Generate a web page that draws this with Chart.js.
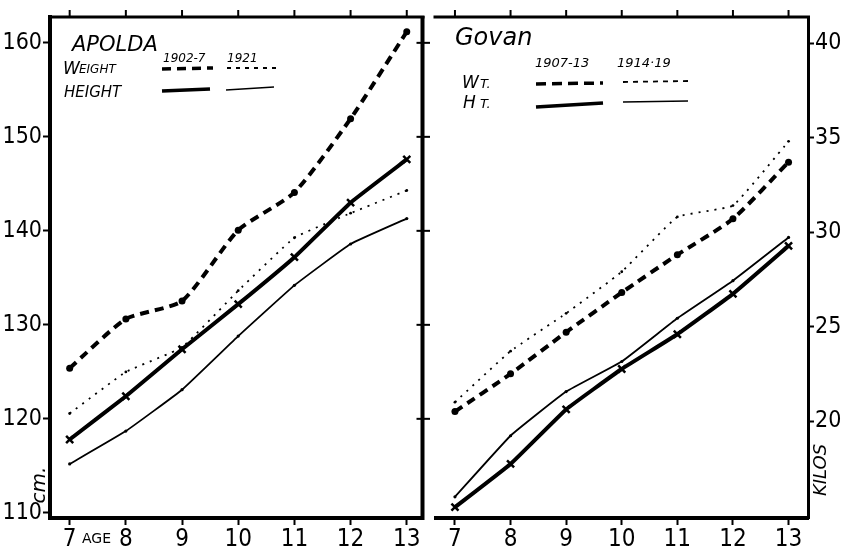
<!DOCTYPE html>
<html>
<head>
<meta charset="utf-8">
<script src="https://cdn.jsdelivr.net/npm/chart.js@4.4.0/dist/chart.umd.min.js"></script>
<style>
html, body { margin: 0; padding: 0; background: #fff; }
#wrap { position: relative; width: 843px; height: 549px; overflow: hidden; }
.box { position: absolute; top: 0; height: 549px; }
#leftBox { left: 0; width: 430px; }
#rightBox { left: 428px; width: 415px; }
</style>
</head>
<body>
<div id="wrap">
  <div class="box" id="leftBox"><canvas id="apolda"></canvas></div>
  <div class="box" id="rightBox"><canvas id="govan"></canvas></div>
</div>
<script>
// ages on both panels
const ages = [7, 8, 9, 10, 11, 12, 13];

// Apolda (weights in kilos, heights in cm)
const apoldaWeight1902 = [22.8, 25.4, 26.35, 30.1, 32.1, 36.0, 40.6];
const apoldaWeight1921 = [20.4, 22.6, 23.9, 26.9, 29.7, 31.0, 32.2];
const apoldaHeight1902 = [117.8, 122.4, 127.4, 132.2, 137.2, 143.0, 147.6];
const apoldaHeight1921 = [115.2, 118.7, 123.1, 128.8, 134.2, 138.6, 141.3];

// Govan
const govanWeight1907 = [20.5, 22.5, 24.7, 26.8, 28.8, 30.7, 33.7];
const govanWeight1914 = [21.0, 23.7, 25.7, 27.9, 30.8, 31.4, 34.8];
const govanHeight1907 = [110.6, 115.2, 121.0, 125.3, 129.0, 133.3, 138.4];
const govanHeight1914 = [111.7, 118.2, 122.9, 126.1, 130.7, 134.7, 139.3];

// tick labels
const cmTicks = [110, 120, 130, 140, 150, 160];
const kiloTicks = [20, 25, 30, 35, 40];

const INK = '#000';
const numFont = '"Liberation Sans Narrow", "DejaVu Sans Condensed", sans-serif';
const handFont = '"DejaVu Sans", sans-serif';

function pts(arr) { return ages.map((a, i) => ({ x: a, y: arr[i] })); }

// line styles shared by both panels
function heavyDash(data, axis) {
  return { data: pts(data), yAxisID: axis, borderColor: INK, backgroundColor: INK,
    borderWidth: 4, borderDash: [9, 6], pointStyle: 'circle', pointRadius: 3.5, pointBorderWidth: 0, tension: 0.2 };
}
function lightDot(data, axis) {
  return { data: pts(data), yAxisID: axis, borderColor: INK, backgroundColor: INK,
    borderWidth: 1.8, borderDash: [2, 6], pointStyle: 'circle', pointRadius: 1.4, pointBorderWidth: 0, tension: 0.1 };
}
function heavySolid(data, axis) {
  return { data: pts(data), yAxisID: axis, borderColor: INK, backgroundColor: INK,
    borderWidth: 4, pointStyle: 'crossRot', pointRadius: 5, pointBorderWidth: 2.5, tension: 0.1 };
}
function lightSolid(data, axis) {
  return { data: pts(data), yAxisID: axis, borderColor: INK, backgroundColor: INK,
    borderWidth: 1.8, pointStyle: 'circle', pointRadius: 1.6, pointBorderWidth: 0, tension: 0.1 };
}

function seg(ctx, x1, y1, x2, y2, w, dash) {
  ctx.save();
  ctx.lineWidth = w;
  ctx.setLineDash(dash || []);
  ctx.beginPath(); ctx.moveTo(x1, y1); ctx.lineTo(x2, y2); ctx.stroke();
  ctx.restore();
}

// frame: top border, ticks on top, divider and panel text
const frame = {
  id: 'frame',
  afterDraw(chart, args, opts) {
    const ctx = chart.ctx, a = chart.chartArea, sx = chart.scales.x;
    ctx.save();
    ctx.strokeStyle = INK; ctx.fillStyle = INK;
    seg(ctx, a.left - 2, a.top, a.right + 2, a.top, 3);
    ages.forEach(v => {
      const x = sx.getPixelForValue(v);
      seg(ctx, x, a.top, x, a.top - 7, 2);
    });
    if (opts.divider) {
      seg(ctx, a.right, a.top - 1, a.right, a.bottom + 2, 4);
      cmTicks.forEach(v => {
        const y = chart.scales.y.getPixelForValue(v);
        if (v > 110) seg(ctx, a.right - 6, y, a.right + 8, y, 2);
      });
    }
    if (opts.text) opts.text(ctx, chart);
    ctx.restore();
  }
};

function apoldaText(ctx) {
  ctx.textBaseline = 'alphabetic';
  ctx.textAlign = 'left';
  ctx.font = 'italic 21px ' + handFont;
  ctx.fillText('APOLDA', 72, 51);
  ctx.font = 'italic 12px ' + handFont;
  ctx.fillText('1902-7', 163, 62);
  ctx.fillText('1921', 227, 62);
  ctx.font = 'italic 17px ' + handFont;
  ctx.fillText('W', 63, 74);
  ctx.font = 'italic 12px ' + handFont;
  ctx.fillText('EIGHT', 79, 73);
  ctx.font = 'italic 15px ' + handFont;
  ctx.fillText('HEIGHT', 64, 97);
  seg(ctx, 162, 69, 213, 68, 3.5, [9, 6]);
  seg(ctx, 227, 68, 278, 68, 1.8, [4, 5]);
  seg(ctx, 162, 91, 210, 89, 3.5);
  seg(ctx, 226, 90, 274, 87, 1.6);
  // axis words
  ctx.font = '14px ' + handFont;
  ctx.fillText('AGE', 82, 543);
  ctx.save();
  ctx.translate(45, 485); ctx.rotate(-Math.PI / 2);
  ctx.textAlign = 'center';
  ctx.font = 'italic 20px ' + handFont;
  ctx.fillText('cm.', 0, 0);
  ctx.restore();
}

function govanText(ctx) {
  // right canvas starts at x=428
  const ox = -428;
  ctx.textBaseline = 'alphabetic';
  ctx.textAlign = 'left';
  ctx.font = 'italic 24px ' + handFont;
  ctx.fillText('Govan', 455 + ox, 45);
  ctx.font = 'italic 13px ' + handFont;
  ctx.fillText('1907-13', 535 + ox, 67);
  ctx.fillText('1914\u00b719', 617 + ox, 67);
  ctx.font = 'italic 17px ' + handFont;
  ctx.fillText('W', 462 + ox, 88);
  ctx.fillText('H', 463 + ox, 108);
  ctx.font = 'italic 13px ' + handFont;
  ctx.fillText('T.', 480 + ox, 88);
  ctx.fillText('T.', 480 + ox, 108);
  seg(ctx, 536 + ox, 84, 603 + ox, 83, 3.5, [10, 6]);
  seg(ctx, 623 + ox, 82, 688 + ox, 81, 1.8, [5, 5]);
  seg(ctx, 536 + ox, 107, 603 + ox, 103, 3.5);
  seg(ctx, 623 + ox, 102, 688 + ox, 101, 1.6);
  ctx.save();
  ctx.translate(826 + ox, 470); ctx.rotate(-Math.PI / 2);
  ctx.textAlign = 'center';
  ctx.font = 'italic 18px ' + handFont;
  ctx.fillText('KILOS', 0, 0);
  ctx.restore();
}

const cmRange = { min: 109.45, max: 162.75 };
const kgRange = { min: 14.87, max: 41.38 };

function xScale(max) {
  return {
    type: 'linear', min: 6.65, max: max,
    afterBuildTicks: s => { s.ticks = ages.map(v => ({ value: v })); },
    afterFit: s => { s.height = 31; },
    border: { display: true, color: INK, width: 4 },
    grid: { drawOnChartArea: false, drawTicks: true, tickLength: 7, tickWidth: 2, color: INK },
    ticks: { color: INK, padding: 0, font: { family: numFont, size: 24 }, maxRotation: 0, autoSkip: false }
  };
}

new Chart(document.getElementById('apolda'), {
  type: 'line',
  data: { datasets: [
    heavyDash(apoldaWeight1902, 'kg'),
    lightDot(apoldaWeight1921, 'kg'),
    heavySolid(apoldaHeight1902, 'y'),
    lightSolid(apoldaHeight1921, 'y')
  ] },
  options: {
    responsive: true, maintainAspectRatio: false, animation: false,
    layout: { padding: { top: 17, right: 2, left: 0, bottom: 0 } },
    plugins: { legend: { display: false }, tooltip: { enabled: false },
      frame: { divider: true, text: apoldaText } },
    scales: {
      x: xScale(13.28),
      y: {
        type: 'linear', position: 'left', min: cmRange.min, max: cmRange.max,
        afterBuildTicks: s => { s.ticks = cmTicks.map(v => ({ value: v })); },
        afterFit: s => { s.width = 50; },
        border: { display: true, color: INK, width: 4 },
        grid: { drawOnChartArea: false, drawTicks: true, tickLength: 7, tickWidth: 2, color: INK },
        ticks: { color: INK, padding: 1, font: { family: numFont, size: 23 } }
      },
      kg: { type: 'linear', display: false, min: kgRange.min, max: kgRange.max }
    }
  },
  plugins: [frame]
});

new Chart(document.getElementById('govan'), {
  type: 'line',
  data: { datasets: [
    heavyDash(govanWeight1907, 'y'),
    lightDot(govanWeight1914, 'y'),
    heavySolid(govanHeight1907, 'cm'),
    lightSolid(govanHeight1914, 'cm')
  ] },
  options: {
    responsive: true, maintainAspectRatio: false, animation: false,
    layout: { padding: { top: 17, right: 0, left: 0, bottom: 0 } },
    plugins: { legend: { display: false }, tooltip: { enabled: false },
      frame: { divider: false, text: govanText } },
    scales: {
      x: xScale(13.35),
      y: {
        type: 'linear', position: 'right', min: kgRange.min, max: kgRange.max,
        afterBuildTicks: s => { s.ticks = kiloTicks.map(v => ({ value: v })); },
        afterFit: s => { s.width = 35; },
        border: { display: true, color: INK, width: 3 },
        grid: { drawOnChartArea: false, drawTicks: true, tickLength: 6, tickWidth: 2, color: INK },
        ticks: { color: INK, padding: 1, font: { family: numFont, size: 23 } }
      },
      cm: { type: 'linear', display: false, min: cmRange.min, max: cmRange.max }
    }
  },
  plugins: [frame]
});
</script>
</body>
</html>
